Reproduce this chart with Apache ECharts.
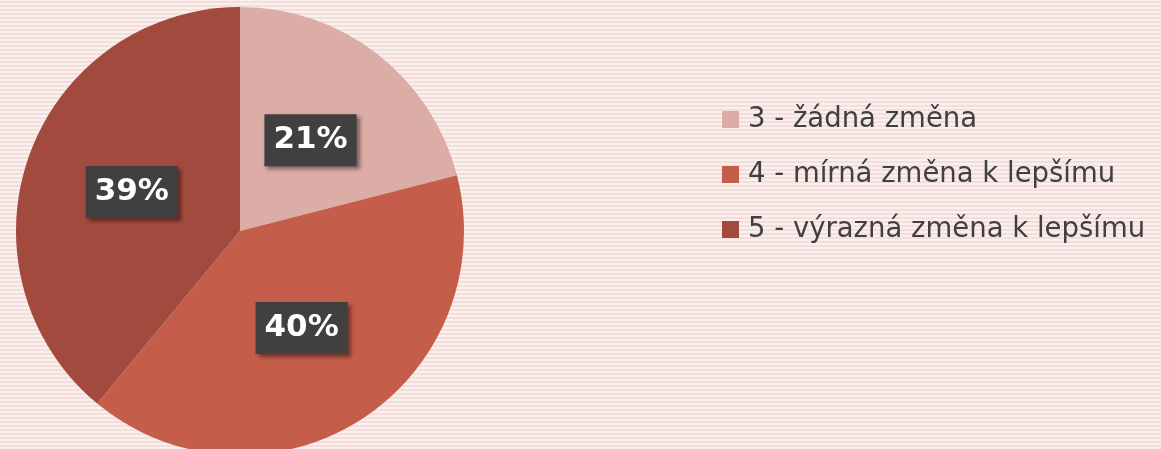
<!DOCTYPE html>
<html><head><meta charset="utf-8">
<script src="https://cdn.jsdelivr.net/npm/echarts@6/dist/echarts.min.js"></script>
<style>
html,body{margin:0;padding:0;}
body{background-color:#f3dedb;background-image:repeating-linear-gradient(0deg, rgba(255,255,255,0.55) 0 2px, transparent 2px 4px);}
#c{width:1161px;height:449px;}
</style></head>
<body><div id="c"></div>
<script>
const categories = ['3 - žádná změna', '4 - mírná změna k lepšímu', '5 - výrazná změna k lepšímu'];
const values = [21, 40, 39];
const colors = ['#dcaca6', '#c55d4b', '#a24a3e'];

const chart = echarts.init(document.getElementById('c'));
chart.setOption({
  backgroundColor: 'transparent',
  animation: false,
  color: colors,
  legend: {
    orient: 'vertical',
    left: 717,
    top: 100,
    itemWidth: 17,
    itemHeight: 17,
    itemGap: 26,
    icon: 'rect',
    textStyle: { fontFamily: 'DejaVu Sans', fontSize: 27.5, lineHeight: 29, color: '#404040', padding: [0,0,0,4] },
    data: categories
  },
  series: [{
    type: 'pie',
    center: [240, 231],
    radius: [0, 224],
    startAngle: 90,
    clockwise: true,
    label: {
      position: 'inside',
      formatter: '{d}%',
      fontFamily: 'DejaVu Sans',
      fontWeight: 'bold',
      fontSize: 31,
      lineHeight: 35,
      color: '#ffffff',
      backgroundColor: '#404040',
      padding: [9, 9, 8, 9],
      shadowColor: 'rgba(0,0,0,0.45)',
      shadowBlur: 4,
      shadowOffsetX: 3,
      shadowOffsetY: 3
    },
    labelLine: { show: false },
    itemStyle: { borderWidth: 0 },
    emphasis: { disabled: true },
    data: categories.map((n, i) => ({ name: n, value: values[i] }))
  }]
});
</script></body></html>
